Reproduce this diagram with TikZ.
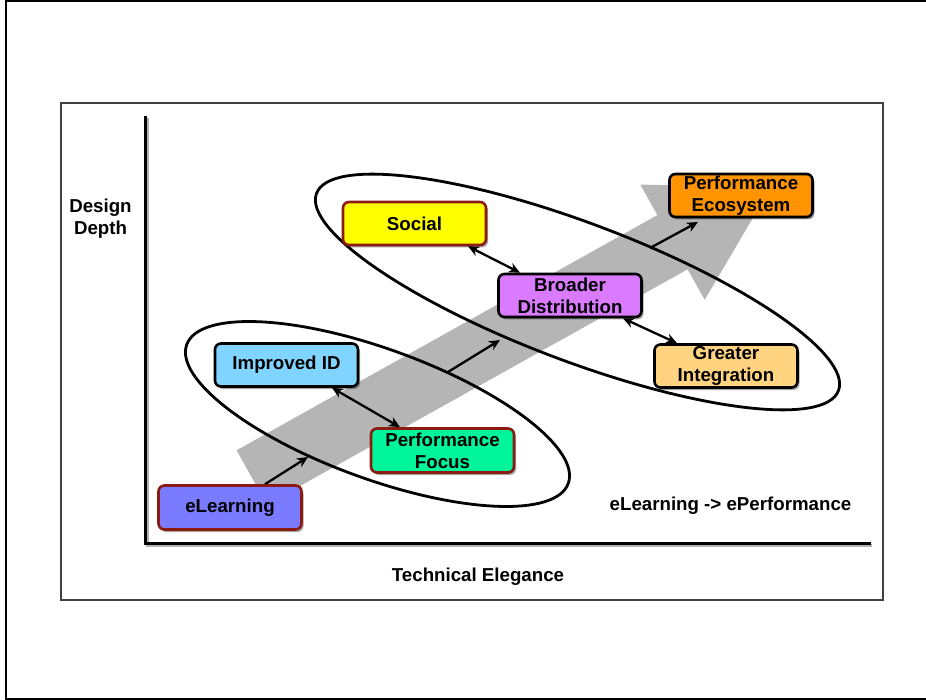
\documentclass[tikz,border=0pt]{standalone}
\usepackage{fontspec}
\setmainfont{Liberation Sans}
\usetikzlibrary{shapes.geometric,shadows,arrows.meta}
\definecolor{bordred}{HTML}{8B1A10}
\definecolor{celearn}{HTML}{7B7BFF}
\definecolor{cimp}{HTML}{7FD5FF}
\definecolor{cpf}{HTML}{00F59A}
\definecolor{csoc}{HTML}{FFFF00}
\definecolor{cbd}{HTML}{DA7BFF}
\definecolor{cgi}{HTML}{FFD37F}
\definecolor{ceco}{HTML}{FF9300}
\definecolor{cband}{HTML}{B5B5B5}
\definecolor{cframe}{HTML}{404040}
\begin{document}
\begin{tikzpicture}[x=1pt,y=-1pt,
  txt/.style={font=\bfseries\fontsize{18.7}{22}\selectfont, align=center, text=black},
  box/.style={txt, draw=black, line width=2.6pt, rounded corners=6pt,
    minimum width=143pt, minimum height=43pt, inner sep=0pt,
    drop shadow={shadow xshift=2pt, shadow yshift=-2.5pt, fill=black, opacity=0.35}},
  redbox/.style={box, draw=bordred},
  tip/.style={line width=2.3pt, -{Stealth[length=11pt,width=10pt,inset=3.5pt]}},
  dtip/.style={line width=2.3pt, {Stealth[length=11pt,width=10pt,inset=3.5pt]}-{Stealth[length=11pt,width=10pt,inset=3.5pt]}},
  ring/.style={ellipse, draw=black, line width=2.8pt, inner sep=0pt}
]
\useasboundingbox (0,0) rectangle (926,700);
% outer frame (open on the right)
\draw[line width=2pt] (940,1.5) -- (5.5,1.5) -- (5.5,698.8) -- (940,698.8);
% inner frame
\draw[cframe, line width=1.5pt] (61,103) rectangle (883,600);
% axes
\draw[black!30, line width=3pt] (147,118) -- (147,545.5) -- (872,545.5);
\draw[line width=3.2pt] (145.5,116) -- (145.5,543.5) -- (871,543.5);
% big gray arrow
\fill[cband] (236.6,450.3) -- (657.4,215.1) -- (640.3,184.6) -- (771.1,187.0)
  -- (704.7,299.8) -- (687.6,269.3) -- (266.8,504.5) -- cycle;
% ellipses
\node[ring, minimum width=406pt, minimum height=130pt, rotate=-20] (lowring) at (377.5,414) {};
\node[ring, minimum width=558pt, minimum height=138pt, rotate=-20.7] (upring) at (577.5,292) {};
% labels
\node[txt] (ylab) at (100.5,218.5) {Design\\Depth};
\node[txt] (xlab) at (478,576.5) {Technical Elegance};
\node[txt] (title) at (730.5,505.5) {eLearning -> ePerformance};
% boxes
\node[redbox, fill=celearn, minimum height=44pt] (el) at (230,507.5) {eLearning};
\node[box, fill=cimp] (imp) at (286.5,365) {Improved ID};
\node[redbox, fill=cpf, minimum height=44pt] (pf) at (442.5,450.5) {Performance\\Focus};
\node[redbox, fill=csoc] (soc) at (414.5,223.5) {Social};
\node[box, fill=cbd] (bd) at (570,295.5) {Broader\\Distribution};
\node[box, fill=cgi] (gi) at (726,366) {Greater\\Integration};
\node[box, fill=ceco] (eco) at (741,195.5) {Performance\\Ecosystem};
% free-ended coordinates
\coordinate (a1e) at (308,457);
\coordinate (a2s) at (448,372);
\coordinate (a2e) at (500,340);
\coordinate (a3s) at (650,248);
\coordinate (a3e) at (698,222);
% connectors
\draw[tip] ([xshift=35pt]el.north) -- (a1e);
\draw[tip] (a2s) -- (a2e);
\draw[tip] (a3s) -- (a3e);
\draw[dtip] ([xshift=45.5pt]imp.south) -- ([xshift=-42.5pt]pf.north);
\draw[dtip] ([xshift=53.5pt]soc.south) -- ([xshift=-50pt]bd.north);
\draw[dtip] ([xshift=53pt]bd.south) -- ([xshift=-49pt]gi.north);
\end{tikzpicture}
\end{document}
